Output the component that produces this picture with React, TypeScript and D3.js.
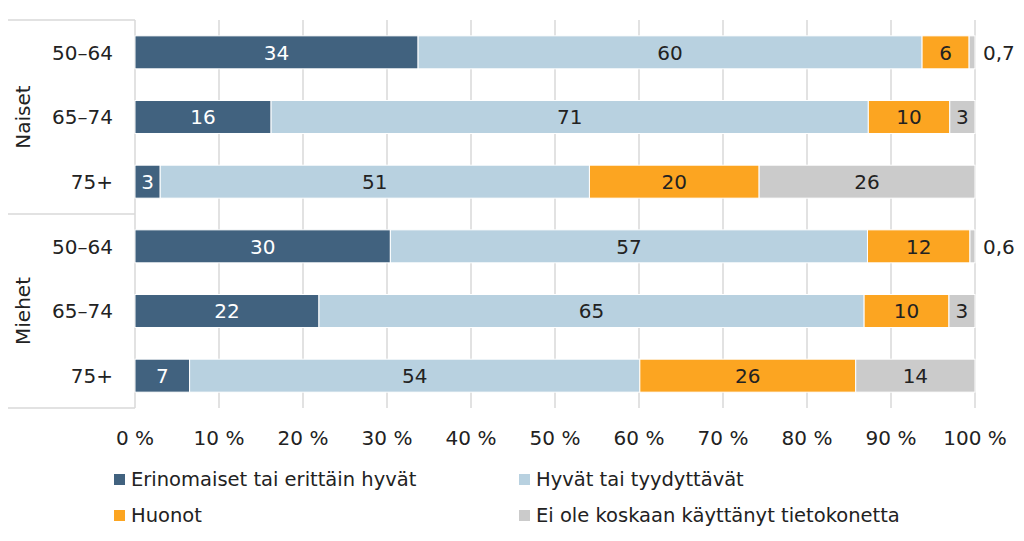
import React from "react";
import * as d3 from "d3";

const groups = ["Naiset", "Miehet"];
const ageGroups = ["50–64", "65–74", "75+"];
const seriesNames = [
  "Erinomaiset tai erittäin hyvät",
  "Hyvät tai tyydyttävät",
  "Huonot",
  "Ei ole koskaan käyttänyt tietokonetta",
];
// Rows: Naiset 50–64, 65–74, 75+, Miehet 50–64, 65–74, 75+
const excellent = [33.7, 16.2, 3.0, 30.4, 21.9, 6.5];
const good = [60.0, 71.1, 51.1, 56.8, 64.9, 53.6];
const poor = [5.6, 9.7, 20.2, 12.2, 10.1, 25.7];
const never = [0.7, 3.0, 25.7, 0.6, 3.1, 14.2];
const xTicks = [0, 10, 20, 30, 40, 50, 60, 70, 80, 90, 100];

const colors = ["#41627f", "#b8d1e0", "#fca521", "#cbcbcb"];
const labelColors = ["#ffffff", "#222222", "#222222", "#222222"];
const FONT = "'DejaVu Sans', sans-serif";
const FS = 20;
const LFS = 19.5;

export default function App() {
  const W = 1024;
  const H = 541;
  const left = 135;
  const right = 975;
  const top = 20;
  const bottom = 408;

  const rows = groups.flatMap((g) => ageGroups.map((a) => `${g}|${a}`));
  const series = [excellent, good, poor, never];

  const x = d3.scaleLinear().domain([0, 100]).range([left, right]);
  const y = d3.scaleBand<string>().domain(rows).range([top, bottom]).paddingInner(0.49).paddingOuter(0.245);

  const gridColor = "#d9d9d9";
  const textColor = "#222222";
  const groupH = (bottom - top) / groups.length;

  const fmt = (v: number) =>
    v < 1 ? v.toFixed(1).replace(".", ",") : String(Math.round(v));

  return (
    <div style={{ position: "absolute", left: 0, top: 0, width: W, height: H, background: "#fff" }}>
      <svg width={W} height={H} style={{ display: "block", fontFamily: FONT }}>
        <rect x={0} y={0} width={W} height={H} fill="#fff" />
        {/* gridlines */}
        {xTicks.map((t) => (
          <line key={t} x1={x(t)} x2={x(t)} y1={top} y2={bottom} stroke={gridColor} strokeWidth={1.5} />
        ))}
        {/* left axis box lines */}
        {d3.range(groups.length + 1).map((i) => (
          <line key={i} x1={8} x2={left} y1={top + i * groupH} y2={top + i * groupH} stroke={gridColor} strokeWidth={1.5} />
        ))}
        {/* bars */}
        {rows.map((r, ri) => {
          let acc = 0;
          return (
            <g key={r}>
              {series.map((s, si) => {
                const v = s[ri];
                const x0 = x(acc);
                acc += v;
                const x1 = x(acc);
                const yy = y(r) as number;
                const bh = y.bandwidth();
                const small = v < 1;
                return (
                  <g key={si}>
                    <rect x={x0} y={yy} width={x1 - x0} height={bh} fill={colors[si]} stroke="#fff" strokeWidth={1} />
                    {small ? (
                      <text x={right + 8} y={yy + bh / 2} dy="0.36em" fontSize={FS} fill={textColor}>
                        {fmt(v)}
                      </text>
                    ) : (
                      <text x={(x0 + x1) / 2} y={yy + bh / 2} dy="0.36em" fontSize={FS} textAnchor="middle" fill={labelColors[si]}>
                        {fmt(v)}
                      </text>
                    )}
                  </g>
                );
              })}
            </g>
          );
        })}
        {/* category labels */}
        {rows.map((r) => (
          <text key={r} x={113} y={(y(r) as number) + y.bandwidth() / 2} dy="0.36em" fontSize={FS} textAnchor="end" fill={textColor}>
            {r.split("|")[1]}
          </text>
        ))}
        {/* group labels */}
        {groups.map((g, gi) => {
          const cy = top + gi * groupH + groupH / 2;
          return (
            <text key={g} transform={`translate(23,${cy}) rotate(-90)`} dy="0.36em" fontSize={FS} textAnchor="middle" fill={textColor}>
              {g}
            </text>
          );
        })}
        {/* x tick labels */}
        {xTicks.map((t) => (
          <text key={t} x={x(t)} y={445} fontSize={FS} textAnchor="middle" fill={textColor}>
            {`${t} %`}
          </text>
        ))}
        {/* legend */}
        {seriesNames.map((n, i) => {
          const col = i % 2;
          const row = Math.floor(i / 2);
          const lx = col === 0 ? 114 : 519;
          const ly = 474 + row * 36;
          return (
            <g key={n}>
              <rect x={lx} y={ly} width={11} height={11} fill={colors[i]} />
              <text x={lx + 17} y={ly + 12} fontSize={LFS} fill={textColor}>
                {n}
              </text>
            </g>
          );
        })}
      </svg>
    </div>
  );
}
